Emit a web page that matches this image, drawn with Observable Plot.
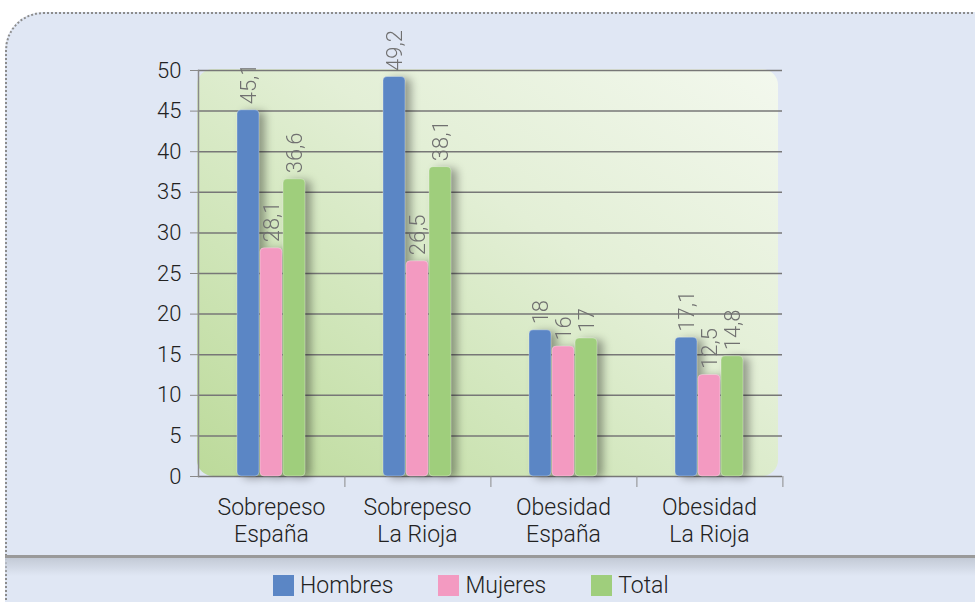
<!DOCTYPE html>
<html>
<head>
<meta charset="utf-8">
<script src="https://cdn.jsdelivr.net/npm/d3@7"></script>
<script src="https://cdn.jsdelivr.net/npm/@observablehq/plot@0.6"></script>
<style>
html, body { margin: 0; padding: 0; background: #ffffff; }
#wrap { position: relative; width: 975px; height: 602px; overflow: hidden; font-family: Roboto, "Liberation Sans", sans-serif; }
#panel { position: absolute; left: 5px; top: 12px; width: 1010px; height: 640px; background: #e0e7f4; border: 2px dotted #8c8c8c; border-radius: 38px; box-sizing: border-box; }
#plotbg { position: absolute; left: 197px; top: 69px; width: 581px; height: 407px; border-radius: 16px;
  background: linear-gradient(to top right, #bcda9a 0%, #cfe5b8 30%, #e3efd6 60%, #f3f8ee 100%); }
#chart { position: absolute; left: 0; top: 0; }
#sep { position: absolute; left: 5px; top: 555px; width: 975px; height: 3px; background: #9a9a9a; }
#sepshade { position: absolute; left: 5px; top: 558px; width: 975px; height: 18px; background: linear-gradient(#c3cad6, rgba(224,231,244,0)); }
#legend { position: absolute; top: 572px; left: 273px; }
.lg-swatches { font: 300 23px Roboto, "Liberation Sans", sans-serif !important; color: #222 !important; min-height: 21px !important; margin: 0 !important; align-items: center !important; }
.lg-swatch { margin-right: 45px !important; align-items: center !important; }
.lg-swatch > svg { margin-right: 6px !important; }
g[aria-label="bar"] { filter: drop-shadow(6px 2px 4px rgba(0,0,0,0.35)); }
g[aria-label="y-axis tick label"] { fill: #222; }
g[aria-label="fx-axis tick label"] { fill: #222; }
</style>
</head>
<body>
<div id="wrap">
  <div id="panel"></div>
  <div id="plotbg"></div>
  <div id="chart"></div>
  <div id="sep"></div>
  <div id="sepshade"></div>
  <div id="legend"></div>
</div>
<script>
const categories = ["Sobrepeso\nEspaña", "Sobrepeso\nLa Rioja", "Obesidad\nEspaña", "Obesidad\nLa Rioja"];
const series = ["Hombres", "Mujeres", "Total"];
const hombres = [45.1, 49.2, 18, 17.1];
const mujeres = [28.1, 26.5, 16, 12.5];
const total = [36.6, 38.1, 17, 14.8];
const yTicks = [0, 5, 10, 15, 20, 25, 30, 35, 40, 45, 50];
const colors = ["#5b86c5", "#f39ac1", "#9fce7c"];

const byserie = {Hombres: hombres, Mujeres: mujeres, Total: total};
const data = categories.flatMap((c, i) => series.map(s => ({cat: c, serie: s, value: byserie[s][i]})));

const plot = Plot.plot({
  width: 975,
  height: 557,
  marginTop: 70,
  marginBottom: 81,
  marginLeft: 196,
  marginRight: 192,
  style: {background: "transparent", fontFamily: "Roboto, 'Liberation Sans', sans-serif", fontSize: "22px", fontWeight: 300, overflow: "visible"},
  fx: {domain: categories, padding: 0, label: null},
  x: {domain: series, paddingInner: 0.06, paddingOuter: 1.68, axis: null},
  y: {domain: [0, 50], label: null},
  color: {domain: series, range: colors},
  marks: [
    Plot.gridY(yTicks, {stroke: "#777", strokeOpacity: 1, strokeWidth: 1.5}),
    Plot.frame({anchor: "left", facetAnchor: "left", stroke: "#8a8a8a", strokeWidth: 1.5}),
    Plot.axisY(yTicks, {tickSize: 8, tickPadding: 9, stroke: "#8a8a8a", label: null, fontSize: 22}),
    Plot.axisFx({anchor: "bottom", tickSize: 0, tickPadding: 19, lineHeight: 1.18, label: null, fontSize: 23}),
    Plot.axisFx({anchor: "bottom", text: null, tickSize: 11, dx: 73.4, stroke: "#8a8a8a", label: null}),
    Plot.barY(data, {fx: "cat", x: "serie", y: "value", fill: "serie", rx: 4, stroke: "white", strokeOpacity: 0.3, strokeWidth: 1}),
    Plot.text(data, {fx: "cat", x: "serie", y: "value", text: d => String(d.value).replace(".", ","),
      rotate: -90, textAnchor: "start", lineAnchor: "middle", dy: -6, fill: "#707070", fontSize: 22})
  ]
});
document.getElementById("chart").appendChild(plot);
const leg = plot.legend("color", {className: "lg", swatchSize: 21});
document.getElementById("legend").appendChild(leg);
</script>
</body>
</html>
